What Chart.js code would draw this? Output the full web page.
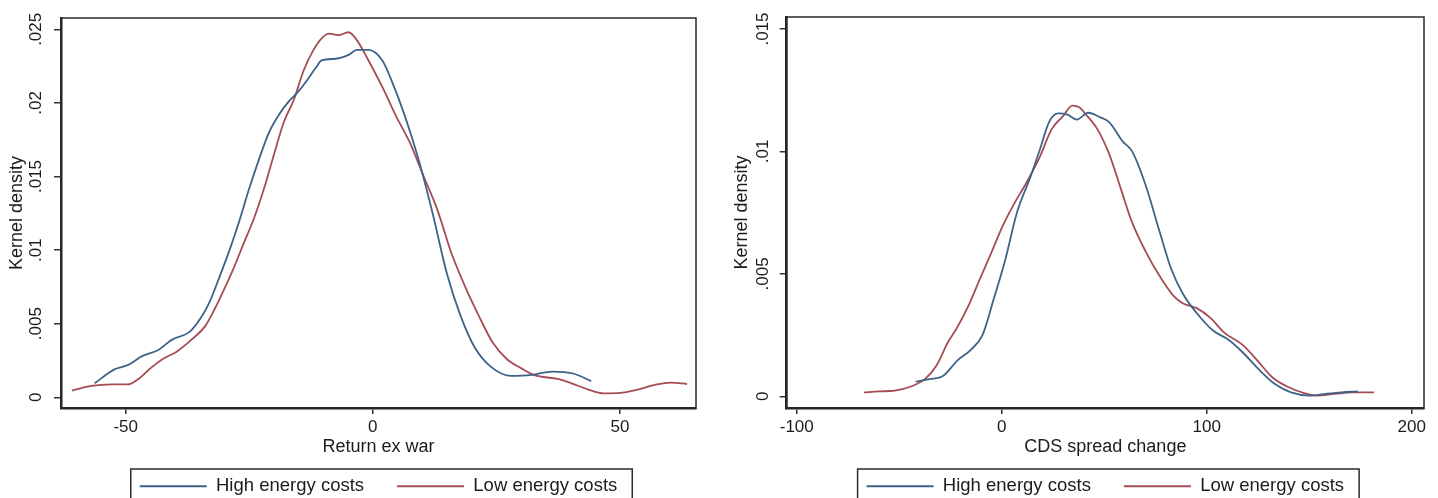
<!DOCTYPE html>
<html>
<head>
<meta charset="utf-8">
<script src="https://cdn.jsdelivr.net/npm/chart.js@4.4.1/dist/chart.umd.min.js"></script>
<style>
    html, body { margin: 0; padding: 0; background: #fff; overflow: hidden; width: 1438px; height: 498px; }
    .panel { position: absolute; top: 0; width: 719px; height: 506px; }
    #left { left: 0; }
    #right { left: 719px; }
</style>
</head>
<body>
<div class="panel" id="left"><canvas id="cLeft"></canvas></div>
<div class="panel" id="right"><canvas id="cRight"></canvas></div>
<script>
// ─── data: left panel (Return ex war) ──────────────────────────────────────
const xLeftHigh = [-56.3, -52.3, -49.5, -46.7, -43.5, -40.7, -36.9, -34.6, -33, -31, -29, -27, -25, -23, -21, -19, -17, -15, -13.6, -11.5, -10.3, -7.5, -4.7, -3.3, -0.9, 1.9, 3.7, 6.5, 9.3, 12.1, 15, 17.8, 20.6, 23.8, 28, 31.8, 36.4, 40.7, 44.2];
const yLeftHigh = [0.00095, 0.0019, 0.0022, 0.0028, 0.0032, 0.0039, 0.0045, 0.0055, 0.0065, 0.0082, 0.0100, 0.0120, 0.0142, 0.0162, 0.0180, 0.0192, 0.0201, 0.0208, 0.0214, 0.0224, 0.0229, 0.0230, 0.0233, 0.0236, 0.0236, 0.0229, 0.0216, 0.0191, 0.0161, 0.0125, 0.0084, 0.0055, 0.0034, 0.0021, 0.00145, 0.0015, 0.00175, 0.0016, 0.0011];
const xLeftLow = [-60.9, -57, -52.8, -49.5, -47.2, -44.9, -42.5, -39.7, -36.4, -34, -32, -30, -28, -26.2, -24, -22, -20, -18, -16, -14, -12, -10.3, -8.9, -7, -4.9, -3.3, -0.9, 1.9, 4.7, 7.5, 10.3, 13.1, 15.9, 18.7, 21.5, 24.3, 27.1, 29.9, 32.7, 37.4, 40.2, 43.5, 46.7, 50, 53.3, 57, 60.3, 63.6];
const yLeftLow = [0.00045, 0.00077, 0.00088, 0.00088, 0.0013, 0.002, 0.0026, 0.0031, 0.0040, 0.0048, 0.0060, 0.0074, 0.0089, 0.0104, 0.0122, 0.0142, 0.0165, 0.0187, 0.0202, 0.0222, 0.0236, 0.0244, 0.0247, 0.0246, 0.0248, 0.0243, 0.0229, 0.0211, 0.0191, 0.0173, 0.0150, 0.0127, 0.0098, 0.0075, 0.0055, 0.0037, 0.0026, 0.002, 0.0015, 0.00125, 0.00095, 0.00054, 0.00027, 0.0003, 0.0005, 0.00084, 0.001, 0.0009];
const xTicksLeft = [-50, 0, 50];
const yTicksLeft = [0, 0.005, 0.01, 0.015, 0.02, 0.025];
const yTickLabelsLeft = ['0', '.005', '.01', '.015', '.02', '.025'];

// ─── data: right panel (CDS spread change) ─────────────────────────────────
const xRightHigh = [-42, -35.3, -28.5, -21.8, -15.1, -9.4, -3.8, 1.8, 7.4, 14.2, 18.7, 23.1, 27.6, 32.1, 36.6, 42.2, 47.9, 52.4, 59.1, 63.6, 70.3, 77.1, 82.7, 88.3, 95.1, 102.9, 110.8, 117.5, 125.4, 133.3, 141.1, 150.1, 158, 165.8, 173.7];
const yRightHigh = [0.0006, 0.0007, 0.00084, 0.00145, 0.0019, 0.0025, 0.004, 0.0056, 0.0075, 0.009, 0.0101, 0.0112, 0.01155, 0.0115, 0.0113, 0.01158, 0.0114, 0.0112, 0.0104, 0.0100, 0.0086, 0.0067, 0.0052, 0.0042, 0.0034, 0.0027, 0.0023, 0.0018, 0.0011, 0.0005, 0.00016, 0.00003, 0.0001, 0.00016, 0.0002];
const xRightLow = [-67.2, -60, -52.1, -44.3, -37.5, -31.9, -26.3, -21.8, -16.2, -10.6, -4.9, 0.7, 6.3, 11.9, 18.7, 24.3, 29.9, 34.4, 37.8, 41.1, 46.7, 52.4, 58, 63.6, 70.3, 77.1, 83.8, 88.3, 95.1, 101.8, 108.5, 117.5, 124.3, 132.1, 140, 147.9, 153.5, 162.5, 171.5, 181.6];
const yRightLow = [0.00016, 0.0002, 0.00023, 0.0004, 0.0007, 0.00125, 0.0022, 0.0028, 0.0037, 0.0048, 0.0059, 0.007, 0.0079, 0.0087, 0.0098, 0.0109, 0.01144, 0.01187, 0.0118, 0.0115, 0.0109, 0.0099, 0.0085, 0.0071, 0.0059, 0.0049, 0.0041, 0.0038, 0.0036, 0.0032, 0.0026, 0.0021, 0.0015, 0.00077, 0.00037, 0.00012, 0.00003, 0.0001, 0.00016, 0.00016];
const xTicksRight = [-100, 0, 100, 200];
const yTicksRight = [0, 0.005, 0.01, 0.015];
const yTickLabelsRight = ['0', '.005', '.01', '.015'];

const seriesLabels = ['High energy costs', 'Low energy costs'];

// ─── style ─────────────────────────────────────────────────────────────────
const BLUE = '#3e6389';
const RED = '#a54c54';
const INK = '#1c1c1c';
const FAMILY = '"Liberation Sans", Arial, sans-serif';
const TICK_FONT = {family: FAMILY, size: 17};
const TITLE_FONT = {family: FAMILY, size: 18};
const LEGEND_FONT = {family: FAMILY, size: 18.5};

const toPoints = (xs, ys) => xs.map((x, i) => ({x, y: ys[i]}));

// plot-region box and the framed legend (Stata look)
const framePlugin = {
    id: 'frame',
    afterDraw(chart) {
        const {ctx, chartArea: a, legend} = chart;
        ctx.save();
        ctx.strokeStyle = '#2a2a2a';
        ctx.lineWidth = 1.5;
        ctx.strokeRect(a.left, a.top, a.right - a.left, a.bottom - a.top);

        const boxes = legend.legendHitBoxes;
        if (boxes && boxes.length) {
            const first = boxes[0];
            const last = boxes[boxes.length - 1];
            const l = first.left - 9;
            const r = last.left + last.width + 15;
            const t = legend.top + 25;
            ctx.strokeRect(l, t, r - l, legend.bottom + 20 - t);
        }
        ctx.restore();
    }
};

function makeChart(canvasId, p) {
    const ctx = document.getElementById(canvasId).getContext('2d');
    const lineDs = (label, data, color) => ({
        label,
        data,
        borderColor: color,
        backgroundColor: color,
        borderWidth: 1.8,
        pointRadius: 0,
        cubicInterpolationMode: 'monotone',
        fill: false,
    });

    return new Chart(ctx, {
        type: 'line',
        data: {
            datasets: [
                lineDs(seriesLabels[0], p.high, BLUE),
                lineDs(seriesLabels[1], p.low, RED),
            ],
        },
        options: {
            responsive: true,
            maintainAspectRatio: false,
            animation: false,
            layout: {padding: {top: p.top, right: p.right, bottom: 0.5, left: 0}},
            plugins: {
                tooltip: {enabled: false},
                legend: {
                    position: 'bottom',
                    fullSize: false,
                    labels: {
                        usePointStyle: true,
                        pointStyle: 'line',
                        pointStyleWidth: 67,
                        padding: 33,
                        color: INK,
                        font: LEGEND_FONT,
                    },
                },
            },
            scales: {
                x: {
                    type: 'linear',
                    bounds: 'data',
                    min: p.xMin,
                    max: p.xMax,
                    afterBuildTicks: s => { s.ticks = p.xTicks.map(v => ({value: v})); },
                    afterFit: s => { s.height = 36; },
                    ticks: {color: INK, font: TICK_FONT, padding: 3, maxRotation: 0, autoSkip: false},
                    grid: {drawOnChartArea: false, drawTicks: true, tickLength: 6, color: '#333', lineWidth: 1.5},
                    border: {color: '#222', width: 2.5},
                    title: {display: true, text: p.xTitle, color: INK, font: TITLE_FONT, padding: {top: 0, bottom: -14.3}},
                },
                y: {
                    type: 'linear',
                    bounds: 'data',
                    min: p.yMin,
                    max: p.yMax,
                    afterBuildTicks: s => { s.ticks = p.yTicks.map(v => ({value: v})); },
                    afterFit: s => { s.width = p.yWidth; },
                    ticks: {
                        color: INK,
                        font: TICK_FONT,
                        padding: p.tickPad,
                        minRotation: 90,
                        maxRotation: 90,
                        crossAlign: 'center',
                        autoSkip: false,
                        callback: (v, i) => p.yLabels[i],
                    },
                    grid: {drawOnChartArea: false, drawTicks: true, tickLength: 7, color: '#333', lineWidth: 1.5},
                    border: {color: '#222', width: 2.5},
                    title: {display: true, text: 'Kernel density', color: INK, font: TITLE_FONT, padding: {top: p.titlePad, bottom: 0}},
                },
            },
        },
        plugins: [framePlugin],
    });
}

makeChart('cLeft', {
    high: toPoints(xLeftHigh, yLeftHigh),
    low: toPoints(xLeftLow, yLeftLow),
    xMin: -63.1, xMax: 65.4,
    yMin: -0.000727, yMax: 0.025768,
    xTicks: xTicksLeft, yTicks: yTicksLeft, yLabels: yTickLabelsLeft,
    xTitle: 'Return ex war',
    top: 18, right: 23, yWidth: 61, tickPad: 1, titlePad: 6.7,
});

makeChart('cRight', {
    high: toPoints(xRightHigh, yRightHigh),
    low: toPoints(xRightLow, yRightLow),
    xMin: -104.9, xMax: 206,
    yMin: -0.000477, yMax: 0.015489,
    xTicks: xTicksRight, yTicks: yTicksRight, yLabels: yTickLabelsRight,
    xTitle: 'CDS spread change',
    top: 17, right: 14, yWidth: 67.7, tickPad: 0.2, titlePad: 12.2,
});
</script>
</body>
</html>
